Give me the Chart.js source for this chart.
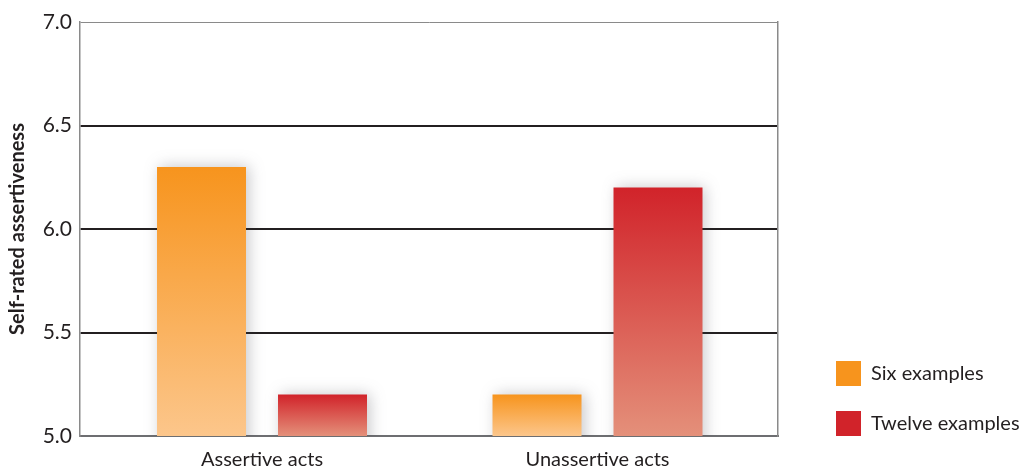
<!DOCTYPE html>
<html>
<head>
<meta charset="utf-8">
<script src="https://cdn.jsdelivr.net/npm/chart.js@4.4.1/dist/chart.umd.min.js"></script>
<style>
	html, body { margin: 0; padding: 0; background: #fff; }
	#wrap { width: 1023px; height: 473px; position: relative; }
</style>
</head>
<body>
<div id="wrap"><canvas id="chart"></canvas></div>
<script>
// values
const categories = ['Assertive acts', 'Unassertive acts'];
const sixExamples = [6.3, 5.2];
const twelveExamples = [5.2, 6.2];
const yTicks = [5.0, 5.5, 6.0, 6.5, 7.0];
const seriesNames = ['Six examples', 'Twelve examples'];
const topColors = ['#f7941d', '#d1232a'];
const bottomColors = ['#fcc68b', '#e4907a'];

// gradient from the top of each bar down to the baseline
function barGradient(top, bottom){
	return (ctx) => {
		const chart = ctx.chart;
		if (!chart.chartArea || ctx.type !== 'data') return top;
		const y = chart.scales.y;
		const yTop = y.getPixelForValue(ctx.parsed.y);
		const yBase = y.getPixelForValue(y.min);
		if (!isFinite(yTop) || yBase - yTop < 1) return top;
		const g = chart.ctx.createLinearGradient(0, yTop, 0, yBase);
		g.addColorStop(0, top);
		g.addColorStop(1, bottom);
		return g;
	};
}

const toPoints = (arr) => arr.map((v, i) => ({x: i, y: v}));

const barShadow = {
	id: 'barShadow',
	beforeDatasetsDraw(chart){
		const c = chart.ctx;
		c.save();
		c.shadowColor = 'rgba(60,60,70,0.28)';
		c.shadowBlur = 14;
		c.shadowOffsetX = 3;
		c.shadowOffsetY = -1;
	},
	afterDatasetsDraw(chart){
		chart.ctx.restore();
	}
};

// fix legend width so the plot ends where the reference does, and lift it a bit
const legendPlace = {
	id: 'legendPlace',
	beforeLayout(chart){
		const lg = chart.legend;
		if (lg && !lg._fixed){
			const fit = lg.fit;
			lg.fit = function(){
				fit.call(this);
				this.width = 212;
			};
			lg._fixed = true;
		}
	},
	afterLayout(chart){
		const lg = chart.legend;
		if (lg){
			lg.top -= 12;
			lg.bottom -= 12;
		}
	}
};

new Chart(document.getElementById('chart'), {
	type: 'bar',
	data: {
		datasets: [
			{
				label: seriesNames[0],
				data: toPoints(sixExamples),
				backgroundColor: barGradient(topColors[0], bottomColors[0]),
				borderWidth: 0
			},
			{
				label: seriesNames[1],
				data: toPoints(twelveExamples),
				backgroundColor: barGradient(topColors[1], bottomColors[1]),
				borderWidth: 0
			}
		]
	},
	options: {
		responsive: true,
		maintainAspectRatio: false,
		animation: false,
		categoryPercentage: 0.7213,
		barPercentage: 0.7355,
		layout: { padding: { top: 22, left: 0, right: 0, bottom: 0 } },
		plugins: {
			tooltip: { enabled: false },
			legend: {
				position: 'right',
				align: 'end',
				labels: {
					boxWidth: 25,
					boxHeight: 25,
					padding: 25,
					color: '#231f20',
					font: { family: 'Lato', size: 20 },
					generateLabels: (chart) => {
						const items = Chart.defaults.plugins.legend.labels.generateLabels(chart);
						items.forEach((it, i) => {
							it.fillStyle = topColors[i];
							it.strokeStyle = topColors[i];
							it.lineWidth = 0;
						});
						return items;
					}
				}
			}
		},
		scales: {
			x: {
				type: 'linear',
				offset: false,
				min: -0.5425,
				max: 1.538,
				afterBuildTicks: (scale) => {
					scale.ticks = categories.map((c, i) => ({value: i}));
				},
				afterFit: (scale) => { scale.height = 37; },
				ticks: {
					callback: (v) => categories[v],
					color: '#231f20',
					padding: 12,
					maxRotation: 0,
					autoSkip: false,
					font: { family: 'Lato', size: 20 }
				},
				grid: { display: false, drawTicks: false },
				border: { color: '#6d6e71', width: 2 }
			},
			y: {
				min: 5,
				max: 7,
				afterBuildTicks: (scale) => {
					scale.ticks = yTicks.map((v) => ({value: v}));
				},
				afterFit: (scale) => { scale.width = 80; },
				ticks: {
					callback: (v) => v.toFixed(1),
					color: '#231f20',
					padding: 8,
					font: { family: 'Lato', size: 21 }
				},
				grid: {
					drawTicks: false,
					color: (ctx) => (ctx.tick && ctx.tick.value === 7 ? '#8a8a8a' : (ctx.tick && ctx.tick.value === 5 ? 'rgba(0,0,0,0)' : '#231f20')),
					lineWidth: (ctx) => (ctx.tick && ctx.tick.value === 7 ? 1 : 2)
				},
				border: { color: '#8a8a8a', width: 1.5 },
				title: {
					display: true,
					text: 'Self-rated assertiveness',
					color: '#231f20',
					padding: { top: 6, bottom: 0 },
					font: { family: 'Lato', size: 20, weight: 'bold' }
				}
			},
			y2: {
				position: 'right',
				min: 5,
				max: 7,
				afterFit: (scale) => { scale.width = 33; },
				ticks: { display: false },
				grid: { display: false, drawTicks: false },
				border: { color: '#8a8a8a', width: 1.5 }
			}
		}
	},
	plugins: [barShadow, legendPlace]
});
</script>
</body>
</html>
